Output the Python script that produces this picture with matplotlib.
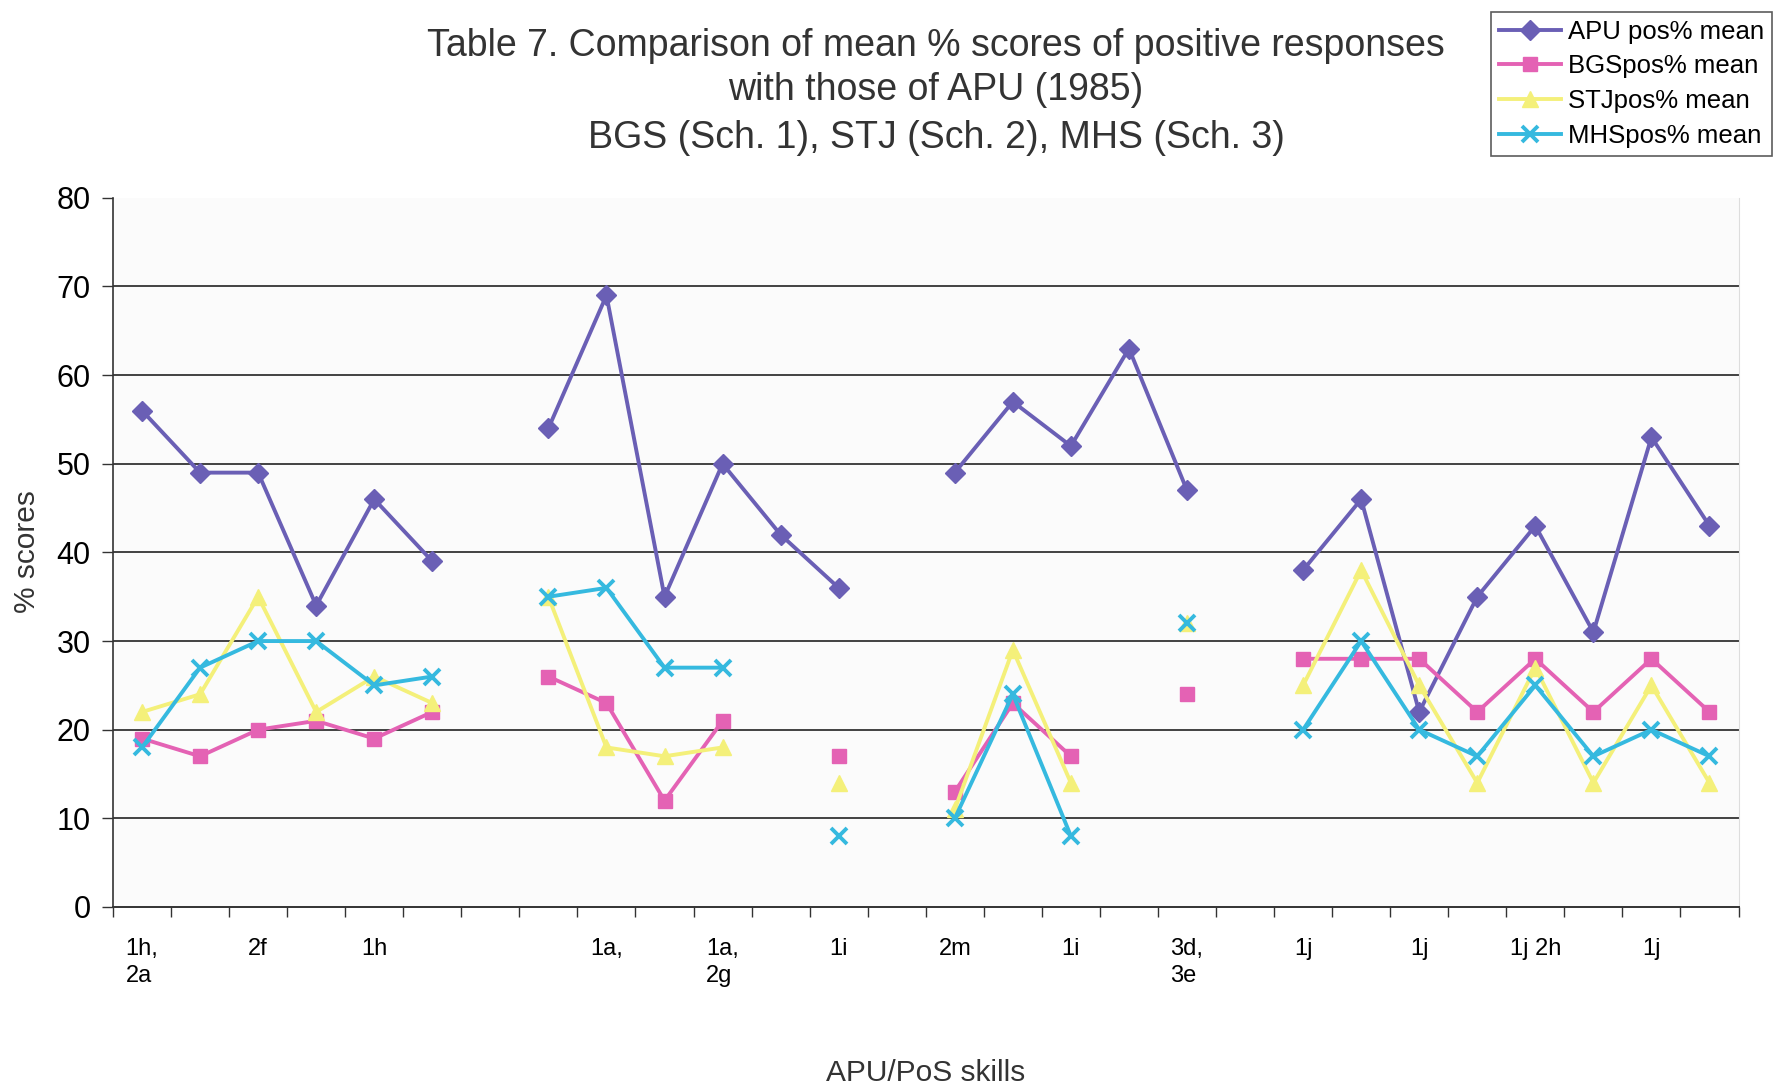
import matplotlib
matplotlib.use("Agg")
import matplotlib.pyplot as plt
import numpy as np

plt.rcParams['font.family'] = ['Liberation Sans', 'DejaVu Sans']

nan = np.nan
# 28 skill slots along the x axis, labelled every second slot
skill_labels = ["1h,\n2a", "", "2f", "", "1h", "", "", "", "1a,", "", "1a,\n2g", "", "1i", "",
                "2m", "", "1i", "", "3d,\n3e", "", "1j", "", "1j", "", "1j 2h", "", "1j", ""]

apu = [56, 49, 49, 34, 46, 39, nan, 54, 69, 35, 50, 42, 36, nan,
       49, 57, 52, 63, 47, nan, 38, 46, 22, 35, 43, 31, 53, 43]
bgs = [19, 17, 20, 21, 19, 22, nan, 26, 23, 12, 21, nan, 17, nan,
       13, 23, 17, nan, 24, nan, 28, 28, 28, 22, 28, 22, 28, 22]
stj = [22, 24, 35, 22, 26, 23, nan, 35, 18, 17, 18, nan, 14, nan,
       11, 29, 14, nan, 32, nan, 25, 38, 25, 14, 27, 14, 25, 14]
mhs = [18, 27, 30, 30, 25, 26, nan, 35, 36, 27, 27, nan, 8, nan,
       10, 24, 8, nan, 32, nan, 20, 30, 20, 17, 25, 17, 20, 17]

x = np.arange(len(skill_labels))

fig = plt.figure(figsize=(17.74, 10.87), dpi=100)
ax = fig.add_axes([0.0637, 0.1656, 0.9163, 0.6524])
ax.set_facecolor("#fbfbfb")

ax.plot(x, apu, color="#6a5fb5", lw=2.8, marker="D", ms=10, label="APU pos% mean", zorder=3)
ax.plot(x, bgs, color="#e462b4", lw=2.8, marker="s", ms=10.5, label="BGSpos% mean", zorder=4)
ax.plot(x, stj, color="#f4f07a", lw=2.8, marker="^", ms=11, label="STJpos% mean", zorder=5)
ax.plot(x, mhs, color="#35b9df", lw=2.8, marker="x", ms=12, mew=2.8, label="MHSpos% mean", zorder=6)

ax.set_ylim(0, 80)
ax.set_xlim(-0.5, len(x) - 0.5)
ax.set_yticks(np.arange(0, 81, 10))
for yv in range(10, 80, 10):
    ax.axhline(yv, color="#222222", lw=1.2, zorder=1)

ax.set_xticks(x)
ax.set_xticklabels(skill_labels, fontsize=17, ha="center", multialignment="left",
                   linespacing=1.35)
ax.set_xticks(np.arange(-0.5, len(x)), minor=True)
ax.tick_params(axis="x", which="major", length=0, pad=22)
ax.tick_params(axis="x", which="minor", length=7, width=1, color="#333333")
ax.tick_params(axis="y", labelsize=22, length=8, width=1, color="#333333", pad=8)

ax.spines["top"].set_visible(False)
ax.spines["right"].set_color("#dddddd")
ax.spines["left"].set_color("#333333")
ax.spines["bottom"].set_color("#333333")
ax.spines["left"].set_linewidth(1.2)
ax.spines["bottom"].set_linewidth(1.4)

fig.text(0.5277, 0.958, "Table 7. Comparison of mean % scores of positive responses",
         ha="center", va="center", fontsize=27, color="#333333")
fig.text(0.5277, 0.917, "with those of APU (1985)", ha="center", va="center",
         fontsize=27, color="#333333")
fig.text(0.5277, 0.873, "BGS (Sch. 1), STJ (Sch. 2), MHS (Sch. 3)", ha="center",
         va="center", fontsize=27, color="#333333")

fig.text(0.522, 0.0, "APU/PoS skills", ha="center", va="bottom", fontsize=21.5, color="#333333")
fig.text(0.015, 0.493, "% scores", ha="center", va="center", rotation=90, fontsize=21.5,
         color="#333333")

leg = fig.legend(loc="upper right", bbox_to_anchor=(0.999, 0.989), fontsize=18.5,
                 frameon=True, fancybox=False, edgecolor="#333333", handlelength=2.4,
                 borderpad=0.3, labelspacing=0.42, handletextpad=0.3, borderaxespad=0)
leg.get_frame().set_linewidth(1.2)

fig.savefig("out.png", dpi=100)
